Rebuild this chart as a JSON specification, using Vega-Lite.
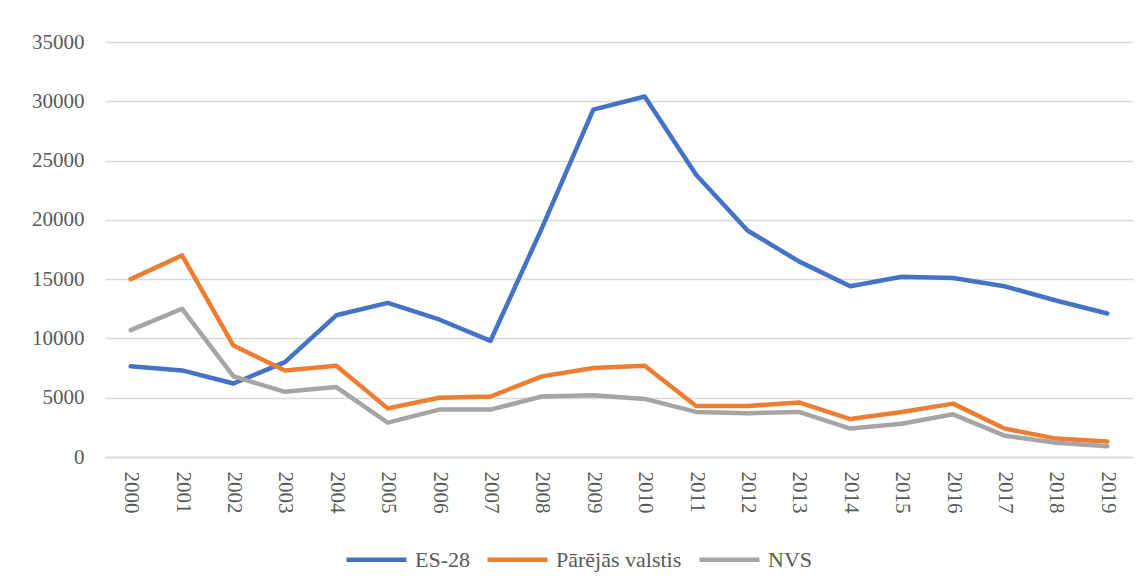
{
  "$schema": "https://vega.github.io/schema/vega-lite/v6.json",
  "width": 1028,
  "height": 415,
  "autosize": "none",
  "padding": {"left": 105, "top": 42, "right": 8, "bottom": 130},
  "background": "white",
  "config": {
    "view": {"stroke": null},
    "font": "Liberation Serif",
    "axis": {"labelFont": "Liberation Serif", "labelColor": "#595959", "labelFontSize": 21, "ticks": false, "gridColor": "#D9D9D9", "gridWidth": 1.5, "title": null},
    "legend": {"labelFont": "Liberation Serif", "labelColor": "#595959", "labelFontSize": 22}
  },
  "data": {
    "values": [
      {"year": "2000", "series": "ES-28", "value": 7650},
      {"year": "2001", "series": "ES-28", "value": 7300},
      {"year": "2002", "series": "ES-28", "value": 6200},
      {"year": "2003", "series": "ES-28", "value": 8000},
      {"year": "2004", "series": "ES-28", "value": 11950},
      {"year": "2005", "series": "ES-28", "value": 13000},
      {"year": "2006", "series": "ES-28", "value": 11600},
      {"year": "2007", "series": "ES-28", "value": 9800},
      {"year": "2008", "series": "ES-28", "value": 19300},
      {"year": "2009", "series": "ES-28", "value": 29300},
      {"year": "2010", "series": "ES-28", "value": 30400},
      {"year": "2011", "series": "ES-28", "value": 23800},
      {"year": "2012", "series": "ES-28", "value": 19100},
      {"year": "2013", "series": "ES-28", "value": 16500},
      {"year": "2014", "series": "ES-28", "value": 14400},
      {"year": "2015", "series": "ES-28", "value": 15200},
      {"year": "2016", "series": "ES-28", "value": 15100},
      {"year": "2017", "series": "ES-28", "value": 14400},
      {"year": "2018", "series": "ES-28", "value": 13200},
      {"year": "2019", "series": "ES-28", "value": 12100},
      {"year": "2000", "series": "Pārējās valstis", "value": 15000},
      {"year": "2001", "series": "Pārējās valstis", "value": 17000},
      {"year": "2002", "series": "Pārējās valstis", "value": 9400},
      {"year": "2003", "series": "Pārējās valstis", "value": 7300},
      {"year": "2004", "series": "Pārējās valstis", "value": 7700},
      {"year": "2005", "series": "Pārējās valstis", "value": 4100},
      {"year": "2006", "series": "Pārējās valstis", "value": 5000},
      {"year": "2007", "series": "Pārējās valstis", "value": 5100},
      {"year": "2008", "series": "Pārējās valstis", "value": 6800},
      {"year": "2009", "series": "Pārējās valstis", "value": 7500},
      {"year": "2010", "series": "Pārējās valstis", "value": 7700},
      {"year": "2011", "series": "Pārējās valstis", "value": 4300},
      {"year": "2012", "series": "Pārējās valstis", "value": 4300},
      {"year": "2013", "series": "Pārējās valstis", "value": 4600},
      {"year": "2014", "series": "Pārējās valstis", "value": 3200},
      {"year": "2015", "series": "Pārējās valstis", "value": 3800},
      {"year": "2016", "series": "Pārējās valstis", "value": 4500},
      {"year": "2017", "series": "Pārējās valstis", "value": 2400},
      {"year": "2018", "series": "Pārējās valstis", "value": 1550},
      {"year": "2019", "series": "Pārējās valstis", "value": 1300},
      {"year": "2000", "series": "NVS", "value": 10700},
      {"year": "2001", "series": "NVS", "value": 12500},
      {"year": "2002", "series": "NVS", "value": 6800},
      {"year": "2003", "series": "NVS", "value": 5500},
      {"year": "2004", "series": "NVS", "value": 5900},
      {"year": "2005", "series": "NVS", "value": 2900},
      {"year": "2006", "series": "NVS", "value": 4000},
      {"year": "2007", "series": "NVS", "value": 4000},
      {"year": "2008", "series": "NVS", "value": 5100},
      {"year": "2009", "series": "NVS", "value": 5200},
      {"year": "2010", "series": "NVS", "value": 4900},
      {"year": "2011", "series": "NVS", "value": 3800},
      {"year": "2012", "series": "NVS", "value": 3700},
      {"year": "2013", "series": "NVS", "value": 3800},
      {"year": "2014", "series": "NVS", "value": 2400},
      {"year": "2015", "series": "NVS", "value": 2800},
      {"year": "2016", "series": "NVS", "value": 3600},
      {"year": "2017", "series": "NVS", "value": 1800},
      {"year": "2018", "series": "NVS", "value": 1200},
      {"year": "2019", "series": "NVS", "value": 900}
    ]
  },
  "mark": {"type": "line", "strokeWidth": 4.5, "strokeJoin": "round", "strokeCap": "round"},
  "encoding": {
    "x": {
      "field": "year", "type": "ordinal",
      "scale": {"type": "point", "padding": 0.5},
      "axis": {"labelAngle": 90, "labelPadding": 14, "labelFont": "Liberation Serif", "labelFontSize": 21, "domainColor": "#D9D9D9", "domainWidth": 1.5, "grid": false}
    },
    "y": {
      "field": "value", "type": "quantitative",
      "scale": {"domain": [0, 35000], "nice": false},
      "axis": {"values": [0, 5000, 10000, 15000, 20000, 25000, 30000, 35000], "labelFont": "Liberation Serif", "labelFontSize": 21, "domain": false, "labelPadding": 21, "format": "d"}
    },
    "color": {
      "field": "series", "type": "nominal",
      "scale": {"domain": ["ES-28", "Pārējās valstis", "NVS"], "range": ["#4472C4", "#ED7D31", "#A5A5A5"]},
      "legend": {"orient": "none", "legendX": 239, "legendY": 485, "direction": "horizontal", "title": null, "labelFont": "Liberation Serif", "labelFontSize": 22, "symbolType": "stroke", "symbolSize": 3600, "symbolStrokeWidth": 4.5, "labelOffset": 6, "columnPadding": 8}
    }
  }
}
